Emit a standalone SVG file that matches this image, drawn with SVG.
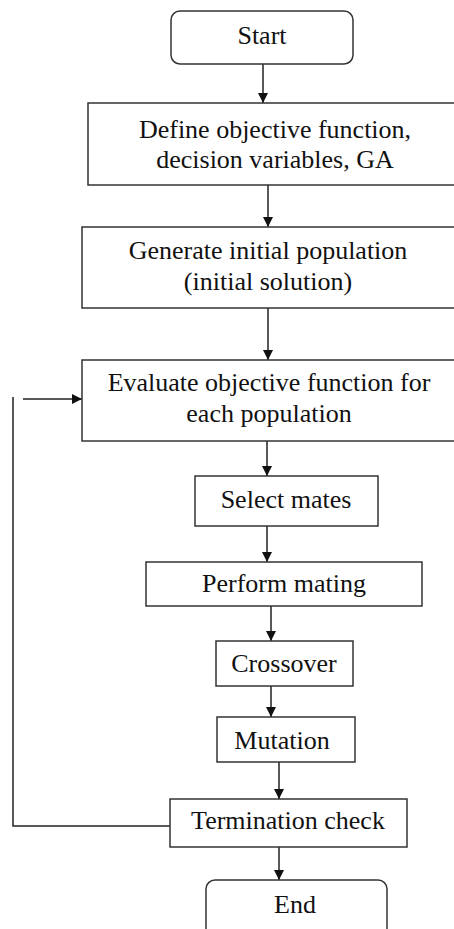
<svg xmlns="http://www.w3.org/2000/svg" width="454" height="929" viewBox="0 0 454 929">
<style>
.box{fill:#fff;stroke:#333;stroke-width:1.5}
.t{font-family:"Liberation Serif","Times New Roman",serif;font-size:26px;fill:#111;text-anchor:middle}
.c{stroke:#222;stroke-width:1.5;fill:none}
</style>
<defs>
<marker id="ah" viewBox="0 0 10 10" refX="10" refY="5" markerWidth="11" markerHeight="10" markerUnits="userSpaceOnUse" orient="auto">
<path d="M0,0 L10,5 L0,10 z" fill="#111"/>
</marker>
</defs>
<rect width="454" height="929" fill="#fff"/>
<g id="connectors">
<line class="c" x1="263" y1="64" x2="263" y2="103" marker-end="url(#ah)"/>
<line class="c" x1="268" y1="185" x2="268" y2="227" marker-end="url(#ah)"/>
<line class="c" x1="268" y1="308" x2="268" y2="360" marker-end="url(#ah)"/>
<line class="c" x1="267" y1="441" x2="267" y2="476" marker-end="url(#ah)"/>
<line class="c" x1="267" y1="526" x2="267" y2="562" marker-end="url(#ah)"/>
<line class="c" x1="271" y1="606" x2="271" y2="641" marker-end="url(#ah)"/>
<line class="c" x1="271" y1="686" x2="271" y2="717" marker-end="url(#ah)"/>
<line class="c" x1="279" y1="762" x2="279" y2="799" marker-end="url(#ah)"/>
<line class="c" x1="279" y1="847" x2="279" y2="880" marker-end="url(#ah)"/>
<polyline class="c" points="170,826 13,826 13,397"/>
<line class="c" x1="23" y1="399" x2="82" y2="399" marker-end="url(#ah)"/>
</g>
<g id="start"><rect class="box" x="171" y="11" width="182" height="53" rx="9"/><text class="t" x="262" y="44">Start</text></g>
<g id="define"><rect class="box" x="88" y="103" width="380" height="82"/><text class="t" x="275" y="138">Define objective function,</text><text class="t" x="275" y="168">decision variables, GA</text></g>
<g id="generate"><rect class="box" x="82" y="227" width="386" height="81"/><text class="t" x="268" y="259">Generate initial population</text><text class="t" x="268" y="290">(initial solution)</text></g>
<g id="evaluate"><rect class="box" x="82" y="360" width="386" height="81"/><text class="t" x="269" y="391">Evaluate objective function for</text><text class="t" x="269" y="422">each population</text></g>
<g id="select"><rect class="box" x="195" y="476" width="183" height="50"/><text class="t" x="286" y="508">Select mates</text></g>
<g id="perform"><rect class="box" x="146" y="562" width="276" height="44"/><text class="t" x="284" y="592">Perform mating</text></g>
<g id="crossover"><rect class="box" x="216" y="641" width="137" height="45"/><text class="t" x="284" y="672">Crossover</text></g>
<g id="mutation"><rect class="box" x="217" y="717" width="138" height="45"/><text class="t" x="282" y="749">Mutation</text></g>
<g id="termination"><rect class="box" x="170" y="799" width="237" height="48"/><text class="t" x="288" y="829">Termination check</text></g>
<g id="end"><rect class="box" x="206" y="880" width="181" height="60" rx="9"/><text class="t" x="295" y="913">End</text></g>
</svg>
